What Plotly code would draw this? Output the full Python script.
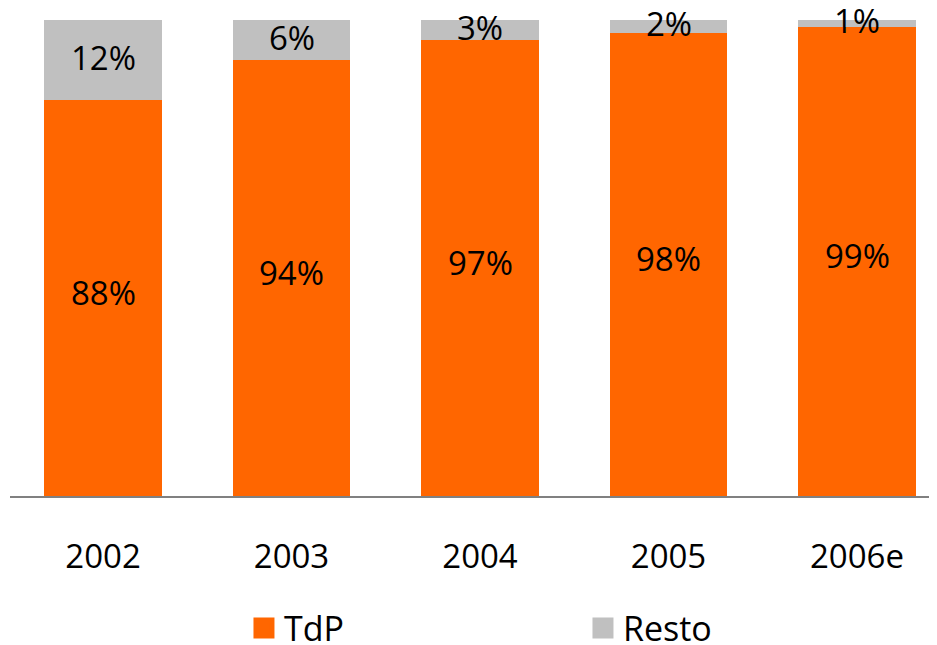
import plotly.graph_objects as go

categories = ["2002", "2003", "2004", "2005", "2006e"]
tdp = [88, 94, 97, 98, 99]
resto = [12, 6, 3, 2, 1]
tdp_labels = ["88%", "94%", "97%", "98%", "99%"]
resto_labels = ["12%", "6%", "3%", "2%", "1%"]

ORANGE = "#FF6600"
GRAY = "#C0C0C0"
FONT = "Open Sans"
FS = 33
Y_MIN, Y_MAX = 29, 100

fig = go.Figure()
fig.add_trace(go.Bar(x=categories, y=tdp, name="TdP", marker=dict(color=ORANGE, line=dict(width=0)),
                     width=0.623, showlegend=False, hoverinfo="x+y+name"))
fig.add_trace(go.Bar(x=categories, y=resto, name="Resto", marker=dict(color=GRAY, line=dict(width=0)),
                     width=0.623, showlegend=False, hoverinfo="x+y+name"))

# legend entries (large square swatches)
for nm, col in [("TdP", ORANGE), ("Resto", GRAY)]:
    fig.add_trace(go.Scatter(x=[None], y=[None], mode="markers", name=nm,
                             marker=dict(symbol="square", size=16, color=col,
                                         line=dict(color=col, width=5))))

annotations = []
for i, (t, r, lt, lr) in enumerate(zip(tdp, resto, tdp_labels, resto_labels)):
    annotations.append(dict(x=i, y=(Y_MIN + t) / 2, xref="x", yref="y", text=lt, showarrow=False, yshift=6,
                            font=dict(family=FONT, size=FS, color="black"), yanchor="middle"))
    annotations.append(dict(x=i, y=t + r / 2, xref="x", yref="y", text=lr, showarrow=False, yshift=3,
                            font=dict(family=FONT, size=FS, color="black"), yanchor="middle"))

fig.update_layout(
    barmode="stack",
    width=929, height=637,
    margin=dict(l=2, r=0, t=12, b=149, autoexpand=False),
    paper_bgcolor="white", plot_bgcolor="white",
    font=dict(family=FONT, size=FS, color="black"),
    annotations=annotations,
    showlegend=True,
    legend=dict(orientation="h", x=0.2524, xanchor="left", y=-0.278, yanchor="middle",
                traceorder="normal",
                font=dict(family=FONT, size=34, color="black"),
                entrywidth=294, entrywidthmode="pixels", itemsizing="trace",
                bgcolor="rgba(0,0,0,0)"),
    xaxis=dict(type="category", range=[-0.4934, 4.4244], showgrid=False, zeroline=False,
               showline=True, linecolor="#808080", linewidth=2,
               ticks="", ticklabelstandoff=30, automargin=False,
               tickfont=dict(family=FONT, size=FS, color="black")),
    yaxis=dict(range=[Y_MIN, Y_MAX], visible=False, showgrid=False, zeroline=False),
)

fig.write_html("out.html")
